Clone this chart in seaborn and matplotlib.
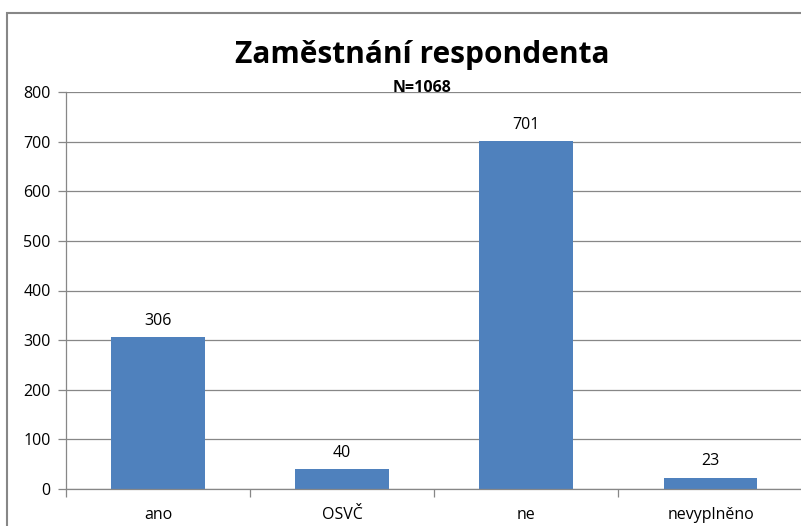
import matplotlib
matplotlib.use("Agg")
import matplotlib.pyplot as plt
import seaborn as sns
import pandas as pd
from matplotlib.patches import Rectangle
from matplotlib.ticker import FixedLocator

categories = ["ano", "OSVČ", "ne", "nevyplněno"]
values = [306, 40, 701, 23]
yticks = [0, 100, 200, 300, 400, 500, 600, 700, 800]
title = "Zaměstnání respondenta"
subtitle = "N=1068"

sns.set_theme(style="white")
plt.rcParams['font.family'] = ['Open Sans', 'DejaVu Sans']
plt.rcParams['text.color'] = 'black'
plt.rcParams['xtick.color'] = 'black'
plt.rcParams['ytick.color'] = 'black'
plt.rcParams['xtick.labelcolor'] = 'black'
plt.rcParams['ytick.labelcolor'] = 'black'

df = pd.DataFrame({"cat": categories, "val": values})

fig = plt.figure(figsize=(8.01, 5.26), dpi=100)
ax = fig.add_axes([66/801, 1-489/526, 1.0 - 66/801 + 0.002, (489-92)/526])

sns.barplot(data=df, x="cat", y="val", order=categories, color="#4F81BD",
            saturation=1, width=0.51, ax=ax, linewidth=0)

ax.set_xlim(-0.5, 3.5)
ax.set_ylim(0, 800)
ax.set_yticks(yticks)
ax.yaxis.grid(True, color="#878787", linewidth=0.9)
ax.set_axisbelow(True)
ax.set_xlabel("")
ax.set_ylabel("")
for s in ["top", "right"]:
    ax.spines[s].set_visible(False)
for s in ["left", "bottom"]:
    ax.spines[s].set_color("#878787")
    ax.spines[s].set_linewidth(0.9)

ax.tick_params(axis="y", which="major", length=6, color="#878787", width=0.9,
               direction="out", labelsize=11.5, pad=5, left=True,
               labelcolor="black")
ax.tick_params(axis="x", which="major", length=0, labelsize=11.5, pad=13,
               labelcolor="black")
ax.xaxis.set_minor_locator(FixedLocator([-0.5, 0.5, 1.5, 2.5, 3.5]))
ax.tick_params(axis="x", which="minor", length=6, color="#878787", width=0.9,
               direction="out", bottom=True)

for i, v in enumerate(values):
    ax.annotate(str(v), (i, v), xytext=(0, 6), textcoords="offset points",
                ha="center", va="bottom", fontsize=11.5, color="black")

fig.text(422/801, 1-55/526, title, ha="center", va="center",
         fontsize=21.5, fontweight="bold", color="black")
fig.text(422/801, 1-88/526, subtitle, ha="center", va="center",
         fontsize=11.5, fontweight="bold", color="black")

fig.patches.append(Rectangle((7/801, -0.1), 1.2, 1-13/526 + 0.1,
                             transform=fig.transFigure, fill=False,
                             edgecolor="#878787", linewidth=1.5))

fig.savefig("out.png", dpi=100)
